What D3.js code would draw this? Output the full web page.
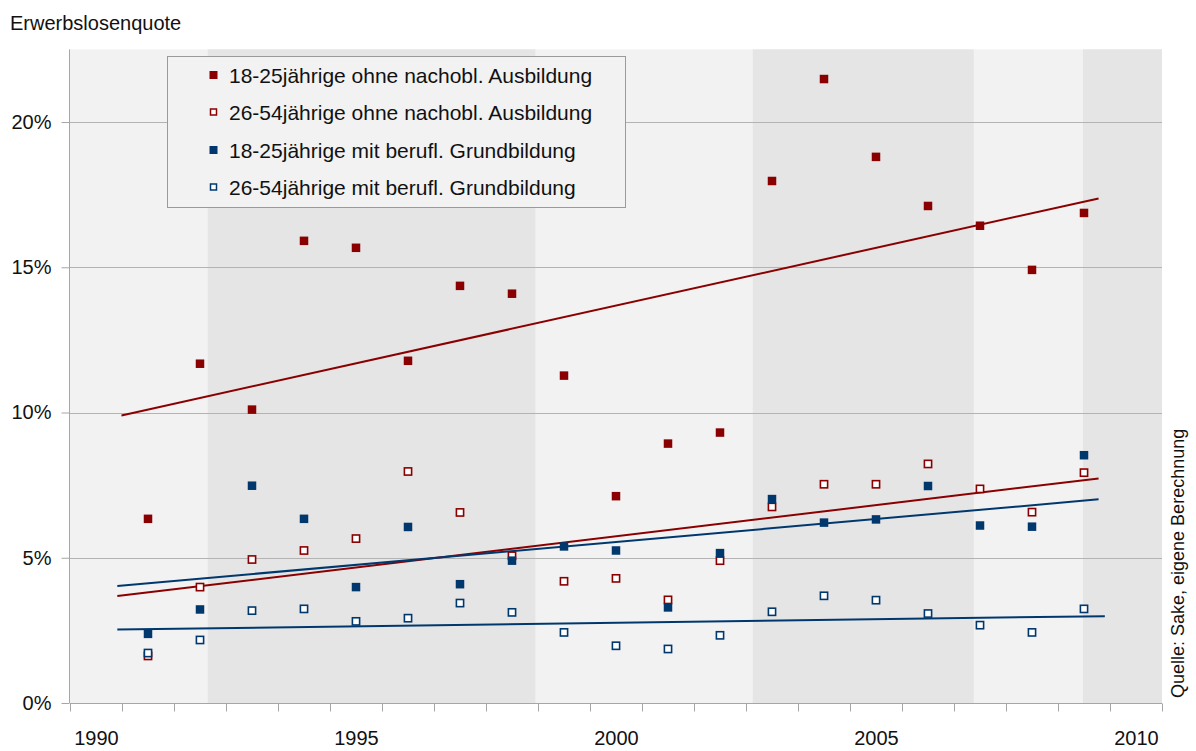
<!DOCTYPE html>
<html>
<head>
<meta charset="utf-8">
<script src="https://cdn.jsdelivr.net/npm/d3@7"></script>
<style>
  html, body { margin: 0; padding: 0; background: #ffffff; }
  svg { display: block; font-family: "Liberation Sans", Arial, sans-serif; }
</style>
</head>
<body>
<svg id="chart" width="1196" height="751"></svg>
<script>
// ---------- data ----------
const years = [1991,1992,1993,1994,1995,1996,1997,1998,1999,2000,2001,2002,2003,2004,2005,2006,2007,2008,2009];
const seriesNames = [
  "18-25jährige ohne nachobl. Ausbildung",
  "26-54jährige ohne nachobl. Ausbildung",
  "18-25jährige mit berufl. Grundbildung",
  "26-54jährige mit berufl. Grundbildung"
];
const youngNoEdu = [6.34,11.68,10.10,15.91,15.67,11.78,14.36,14.09,11.27,7.12,8.93,9.31,17.97,21.48,18.80,17.11,16.43,14.91,16.87];
const adultNoEdu = [1.62,3.99,4.94,5.25,5.66,7.97,6.56,5.07,4.19,4.29,3.55,4.90,6.75,7.53,7.53,8.23,7.37,6.57,7.93];
const youngVoc   = [2.38,3.22,7.48,6.34,3.99,6.06,4.09,4.90,5.39,5.25,3.29,5.16,7.02,6.21,6.32,7.47,6.11,6.07,8.53];
const adultVoc   = [1.72,2.17,3.18,3.24,2.81,2.92,3.44,3.12,2.43,1.97,1.86,2.33,3.14,3.69,3.54,3.08,2.68,2.43,3.24];
// linear trend lines: [startYear, startValue, endYear, endValue]
const trendYoungNoEdu = [1990.49, 9.90, 2009.28, 17.37];
const trendAdultNoEdu = [1990.41, 3.68, 2009.28, 7.73];
const trendYoungVoc   = [1990.41, 4.03, 2009.28, 7.01];
const trendAdultVoc   = [1990.41, 2.53, 2009.40, 2.99];
// shaded periods (years)
const bandStarts = [1992.15, 2002.63, 2008.98];
const bandEnds   = [1998.45, 2006.88, 2010.5];
const yTicks = [0, 5, 10, 15, 20];
const xLabels = [1990, 1995, 2000, 2005, 2010];

// ---------- setup ----------
const red = "#8a0000", blue = "#00386e";
const series = [
  {name: seriesNames[0], values: youngNoEdu, color: red,  filled: true,  trend: trendYoungNoEdu},
  {name: seriesNames[1], values: adultNoEdu, color: red,  filled: false, trend: trendAdultNoEdu},
  {name: seriesNames[2], values: youngVoc,   color: blue, filled: true,  trend: trendYoungVoc},
  {name: seriesNames[3], values: adultVoc,   color: blue, filled: false, trend: trendAdultVoc}
];

const svg = d3.select("#chart");
const L = 70, R = 1162, T = 49.4, B = 703;
const x = d3.scaleLinear().domain([1989.5, 2010.5]).range([L, R]);
const y = d3.scaleLinear().domain([0, 22.5]).range([B, T]);

// background
svg.append("rect").attr("x", L).attr("y", T).attr("width", R - L).attr("height", B - T).attr("fill", "#f2f2f2");
svg.append("g").selectAll("rect").data(bandStarts.map((s, i) => [s, bandEnds[i]])).join("rect")
  .attr("x", d => x(d[0])).attr("y", T)
  .attr("width", d => x(d[1]) - x(d[0])).attr("height", B - T)
  .attr("fill", "#e5e5e5");

// gridlines
svg.append("g").selectAll("line").data(yTicks.filter(v => v > 0)).join("line")
  .attr("x1", L).attr("x2", R).attr("y1", d => Math.round(y(d)) + 0.5).attr("y2", d => Math.round(y(d)) + 0.5)
  .attr("stroke", "#b3b3b3").attr("stroke-width", 1);

// y axis
const yAxis = svg.append("g").attr("transform", `translate(${L - 0.5},0)`)
  .call(d3.axisLeft(y).tickValues(yTicks).tickFormat(d => d + "%").tickSize(8).tickPadding(10));
yAxis.select(".domain").attr("stroke", "#a6a6a6").attr("d", `M0,${T}V${B}`);
yAxis.selectAll(".tick line").attr("stroke", "#a6a6a6");
yAxis.selectAll("text").attr("font-size", 20).attr("fill", "#111").attr("font-family", "Liberation Sans, Arial, sans-serif");

// x axis: ticks at category boundaries
const xTickVals = d3.range(1989.5, 2010.6, 1);
const xAxis = svg.append("g").attr("transform", `translate(0,${B + 0.5})`)
  .call(d3.axisBottom(x).tickValues(xTickVals).tickFormat("").tickSize(8));
xAxis.select(".domain").attr("stroke", "#a6a6a6").attr("d", `M${L},0H${R}`);
xAxis.selectAll(".tick line").attr("stroke", "#a6a6a6");
const xLab = svg.append("g").attr("transform", `translate(0,${B})`)
  .call(d3.axisBottom(x).tickValues(xLabels).tickFormat(d3.format("d")).tickSize(0).tickPadding(28));
xLab.select(".domain").remove();
xLab.selectAll("text").attr("font-size", 20).attr("fill", "#111").attr("font-family", "Liberation Sans, Arial, sans-serif");

// trend lines
svg.append("g").selectAll("line").data(series).join("line")
  .attr("x1", d => x(d.trend[0])).attr("y1", d => y(d.trend[1]))
  .attr("x2", d => x(d.trend[2])).attr("y2", d => y(d.trend[3]))
  .attr("stroke", d => d.color).attr("stroke-width", 2);

// markers
series.forEach(s => {
  const g = svg.append("g");
  g.selectAll("rect").data(s.values.map((v, i) => [years[i], v])).join("rect")
    .attr("x", d => x(d[0]) - (s.filled ? 4.25 : 3.6))
    .attr("y", d => y(d[1]) - (s.filled ? 4.25 : 3.6))
    .attr("width", s.filled ? 8.5 : 7.2).attr("height", s.filled ? 8.5 : 7.2)
    .attr("fill", s.filled ? s.color : "#ffffff")
    .attr("stroke", s.filled ? "none" : s.color)
    .attr("stroke-width", s.filled ? 0 : 1.6);
});

// legend
const lg = svg.append("g");
lg.append("rect").attr("x", 167.5).attr("y", 56.5).attr("width", 458).attr("height", 151)
  .attr("fill", "#f2f2f2").attr("stroke", "#9a9a9a").attr("stroke-width", 1);
const rowsY = [75, 112, 150, 187];
series.forEach((s, i) => {
  lg.append("rect")
    .attr("x", s.filled ? 209.5 : 210.5).attr("y", rowsY[i] - (s.filled ? 4 : 3))
    .attr("width", s.filled ? 8 : 6).attr("height", s.filled ? 8 : 6)
    .attr("fill", s.filled ? s.color : "#ffffff")
    .attr("stroke", s.filled ? "none" : s.color).attr("stroke-width", s.filled ? 0 : 1.5);
  lg.append("text").attr("x", 229).attr("y", rowsY[i] + 7.5)
    .attr("font-size", 21).attr("fill", "#111").text(s.name);
});

// titles
svg.append("text").attr("x", 10).attr("y", 30).attr("font-size", 20).attr("fill", "#111").text("Erwerbslosenquote");
svg.append("text").attr("transform", "translate(1184,698) rotate(-90)")
  .attr("font-size", 18).attr("fill", "#111").text("Quelle: Sake, eigene Berechnung");
</script>
</body>
</html>
